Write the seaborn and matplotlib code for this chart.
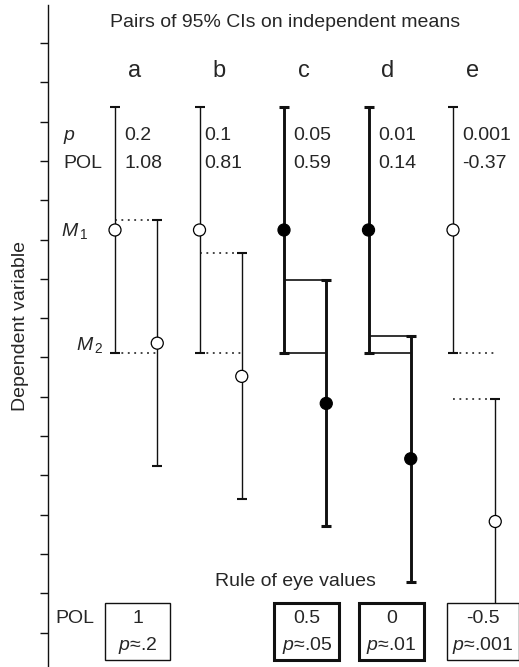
import numpy as np
import pandas as pd
import matplotlib
matplotlib.use("Agg")
import matplotlib.pyplot as plt
from matplotlib.patches import Rectangle
import seaborn as sns

# datos de los pares de IC 95%
grupos = ["a", "b", "c", "d", "e"]
p_texto = ["0.2", "0.1", "0.05", "0.01", "0.001"]
pol = [1.08, 0.81, 0.59, 0.14, -0.37]
m1 = [1.0, 1.0, 1.0, 1.0, 1.0]
m2 = [0.08, -0.19, -0.41, -0.86, -1.37]
moe = [1.0, 1.0, 1.0, 1.0, 1.0]
significativo = [False, False, True, True, False]

# valores de la regla del ojo
ojo_grupos = ["a", "c", "d", "e"]
ojo_pol = ["1", "0.5", "0", "-0.5"]
ojo_p = [".2", ".05", ".01", ".001"]

sns.set_style("white")
plt.rcParams["font.family"] = ["Liberation Sans", "DejaVu Sans"]
plt.rcParams["mathtext.fontset"] = "custom"
plt.rcParams["mathtext.it"] = "Liberation Sans:italic"
plt.rcParams["mathtext.rm"] = "Liberation Sans"

filas = []
for i, g in enumerate(grupos):
    filas.append({"grupo": g, "x": i, "media": m1[i], "moe": moe[i], "sig": significativo[i]})
    filas.append({"grupo": g, "x": i + 0.5, "media": m2[i], "moe": moe[i], "sig": significativo[i]})
df = pd.DataFrame(filas)

fig = plt.figure(figsize=(5.19, 6.67), dpi=100)
ax = fig.add_axes([48 / 519, 0, 471 / 519, 1])
ax.set_xlim(-0.793, 4.781)
ax.set_ylim(-2.553, 2.870)

tinta = "#111111"
fs = 14

# intervalos de confianza
for _, r in df.iterrows():
    grueso = r["sig"]
    ax.errorbar(r["x"], r["media"], yerr=r["moe"], fmt="none", ecolor=tinta,
                elinewidth=2.1 if grueso else 1.0, capsize=3.8,
                capthick=2.2 if grueso else 1.5, zorder=2)

# lineas de referencia entre pares
for i, g in enumerate(grupos):
    estilo = "-" if significativo[i] else (0, (1.2, 3))
    ancho = 1.2 if significativo[i] else 1.1
    arriba2 = m2[i] + moe[i]
    abajo1 = m1[i] - moe[i]
    ax.hlines([arriba2, abajo1], i, i + 0.5, colors=tinta, linestyles=estilo,
              linewidth=ancho, zorder=1)

# medias
sns.scatterplot(data=df, x="x", y="media", hue="sig",
                palette={True: "black", False: "white"}, edgecolor="black",
                linewidth=0.9, s=75, legend=False, zorder=3, ax=ax)

# textos superiores
ax.text(2.01, 2.69, "Pairs of 95% CIs on independent means", ha="center",
        va="center", fontsize=fs)
for i, g in enumerate(grupos):
    ax.text(i + 0.23, 2.244, g, ha="center", va="baseline", fontsize=17)
    dx = 0.06 if g == "b" else 0.11
    ax.text(i + dx, 1.732, p_texto[i], ha="left", va="baseline", fontsize=fs)
    ax.text(i + dx, 1.504, f"{pol[i]:.2f}", ha="left", va="baseline", fontsize=fs)
ax.text(-0.615, 1.732, "$p$", ha="left", va="baseline", fontsize=fs)
ax.text(-0.615, 1.504, "POL", ha="left", va="baseline", fontsize=fs)
ax.text(-0.32, 0.951, r"$M_{\,1}$", ha="right", va="baseline", fontsize=fs)
ax.text(-0.142, 0.024, r"$M_{\,2}$", ha="right", va="baseline", fontsize=fs)

ax.text(-1.124, 0.22, "Dependent variable", rotation=90, ha="center",
        va="center", fontsize=fs, clip_on=False)

# regla del ojo
ax.text(2.13, -1.894, "Rule of eye values", ha="center", va="baseline", fontsize=fs)
ax.text(-0.71, -2.195, "POL", ha="left", va="baseline", fontsize=fs)
for k, g in enumerate(ojo_grupos):
    i = grupos.index(g)
    cx = i + (0.355 if g == "e" else 0.27)
    w = 0.86 if g == "e" else 0.77
    grueso = significativo[i]
    ax.add_patch(Rectangle((cx - w / 2, -2.496), w, 0.463, facecolor="white",
                           edgecolor=tinta, linewidth=2.2 if grueso else 1.0,
                           zorder=5))
    ax.text(cx, -2.195, ojo_pol[k], ha="center", va="baseline", fontsize=fs, zorder=6)
    ax.text(cx, -2.415, "$p$≈" + ojo_p[k], ha="center", va="baseline",
            fontsize=fs, zorder=6)

# ejes
for lado in ["top", "right", "bottom"]:
    ax.spines[lado].set_visible(False)
ax.spines["left"].set_color(tinta)
ax.spines["left"].set_linewidth(1.0)
ax.spines["left"].set_bounds(-2.553, 2.83)
ax.set_yticks(2.52 - 0.3195 * np.arange(16))
ax.set_xticks([])
ax.tick_params(axis="y", direction="out", length=6, width=1, color=tinta,
               labelleft=False, left=True)
ax.set_xlabel("")
ax.set_ylabel("")

fig.savefig("out.png", dpi=100)
